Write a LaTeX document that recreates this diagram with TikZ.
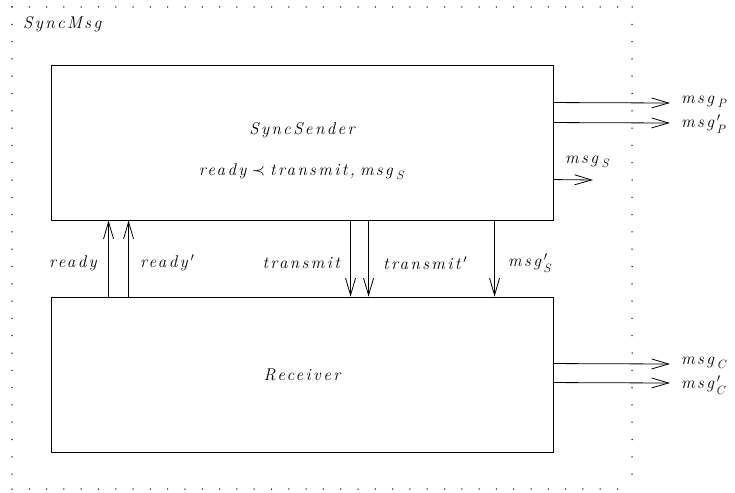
\documentclass[tikz,border=0pt]{standalone}
\usepackage{fontspec}
\usetikzlibrary{arrows.meta}
\newfontfamily\labfont{Latin Modern Roman}[LetterSpace=14]
\newcommand{\lab}[1]{{\labfont\itshape #1}}
\newcommand{\lsub}[1]{$\mkern4mu_{\raisebox{-1.5pt}{$\scriptstyle #1$}}$}
\newcommand{\lpsub}[1]{$\mkern3mu'_{\raisebox{-1.5pt}{$\scriptstyle #1$}}$}
\begin{document}
\begin{tikzpicture}[x=1pt,y=-1pt,
  txt/.style={font=\fontsize{17}{20}\selectfont, inner sep=0pt},
  blk/.style={draw, line width=0.9pt, minimum width=502pt, minimum height=155pt, inner sep=0pt},
  arr/.style={line width=0.8pt, -{Straight Barb[length=17pt,width=10pt,line width=0.8pt]}},
  frame/.style={line width=1.5pt, line cap=round, dash pattern=on 0pt off 17.3pt}]
\useasboundingbox (0,0) rectangle (735,492);
% outer dotted frame
\draw[frame] (12,7) -- (632,7);
\draw[frame] (12,489) -- (632,489);
\draw[frame] (12,7) -- (12,489);
\draw[frame] (632,7) -- (632,489);
\node[txt, anchor=base west] (title) at (23,29) {\lab{SyncMsg}};
% blocks
\node[blk] (send) at (302,142.5) {};
\node[blk] (recv) at (302,374.5) {};
\node[txt] (sendname) at (302,130) {\lab{SyncSender}};
\node[txt] (sendcond) at (302,172) {\lab{ready}\ $\prec$\ \lab{transmit,} \lab{msg}\lsub{S}};
\node[txt] (recvname) at (302,375) {\lab{Receiver}};
% up arrows
\draw[arr] ([xshift=58pt]recv.north west) -- ([xshift=58pt]send.south west);
\draw[arr] ([xshift=78pt]recv.north west) -- ([xshift=78pt]send.south west);
\node[txt, anchor=east] (lready) at (97,263) {\lab{ready}};
\node[txt, anchor=west] (lreadyp) at (140,263) {\lab{ready}$\,'$};
% down arrows
\draw[arr] ([xshift=300pt]send.south west) -- ([xshift=300pt]recv.north west);
\draw[arr] ([xshift=318pt]send.south west) -- ([xshift=318pt]recv.north west);
\draw[arr] ([xshift=444pt]send.south west) -- ([xshift=444pt]recv.north west);
\node[txt, anchor=east] (ltr) at (340,263) {\lab{transmit}};
\node[txt, anchor=west] (ltrp) at (383,263) {\lab{transmit}$\,'$};
\node[txt, anchor=west] (lmsgsp) at (508,263) {\lab{msg}\lpsub{S}};
% right arrows (sender)
\coordinate (pend) at (670,103);
\coordinate (ppend) at (670,123);
\coordinate (send2) at (593,180);
\draw[arr] ([yshift=-38pt]send.north east) -- (pend);
\draw[arr] ([yshift=-58pt]send.north east) -- (ppend);
\draw[arr] ([yshift=-115pt]send.north east) -- (send2);
\node[txt, anchor=west] (lmp) at (681,102) {\lab{msg}\lsub{P}};
\node[txt, anchor=west] (lmpp) at (681,124) {\lab{msg}\lpsub{P}};
\node[txt, anchor=west] (lms) at (565,162) {\lab{msg}\lsub{S}};
% right arrows (receiver)
\coordinate (cend) at (670,364);
\coordinate (ccend) at (670,383);
\draw[arr] ([yshift=-67pt]recv.north east) -- (cend);
\draw[arr] ([yshift=-86pt]recv.north east) -- (ccend);
\node[txt, anchor=west] (lmc) at (681,363) {\lab{msg}\lsub{C}};
\node[txt, anchor=west] (lmcp) at (681,385) {\lab{msg}\lpsub{C}};
\end{tikzpicture}
\end{document}
